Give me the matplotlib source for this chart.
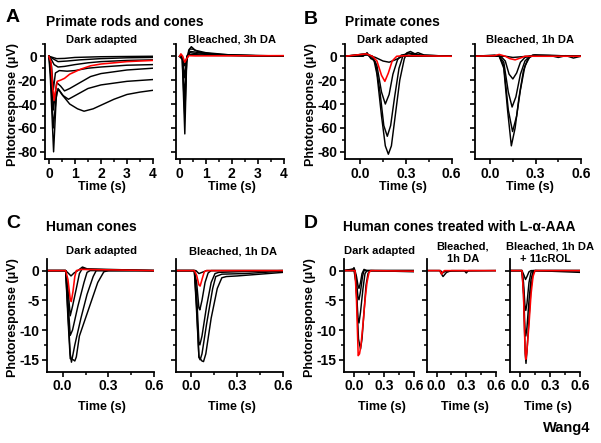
import matplotlib
matplotlib.use("Agg")
import matplotlib.pyplot as plt
from matplotlib.ticker import MultipleLocator, FormatStrFormatter

plt.rcParams["font.family"] = ["Liberation Sans", "DejaVu Sans"]
plt.rcParams["font.weight"] = "bold"
plt.rcParams["axes.unicode_minus"] = False

W, H = 601, 443

# ---- traces, (time s, response uV) ----
A_DARK_BLACK = [
    [(0, 0), (0.15, -1), (0.3, -2), (0.6, -1.8), (1, -1), (2, -0.4), (4, 0)],
    [(0, 0), (0.15, -2), (0.35, -4.5), (0.7, -4), (1.2, -3), (2, -2), (3, -1.3), (4, -1)],
    [(0, 0), (0.1, -3), (0.2, -7), (0.35, -9), (0.6, -8.5), (1, -7), (1.5, -5.5), (2, -4.5), (3, -3.5), (4, -3)],
    [(0, 0), (0.1, -8), (0.17, -28), (0.25, -14), (0.4, -12), (0.7, -12.5), (1, -12), (1.5, -10),
     (2, -9), (3, -7.5), (4, -7)],
    [(0, 0), (0.08, -10), (0.17, -45), (0.3, -22), (0.45, -25), (0.6, -29), (0.8, -27), (1.2, -22),
     (1.6, -17), (2, -14.5), (3, -11.5), (4, -10)],
    [(0, 0), (0.07, -15), (0.17, -60), (0.3, -30), (0.38, -28), (0.55, -33), (0.75, -36), (1, -33),
     (1.5, -27), (2, -24), (3, -21), (4, -19.5)],
    [(0, 0), (0.06, -20), (0.18, -80), (0.28, -35), (0.35, -27), (0.5, -32), (0.8, -40), (1.1, -44),
     (1.35, -46), (1.7, -44), (2, -41), (2.5, -36), (3, -32), (3.5, -30), (4, -28.5)],
]
A_DARK_RED = [(0, 0), (0.08, -5), (0.14, -25), (0.2, -37), (0.26, -28), (0.32, -21), (0.45, -20),
              (0.6, -18.5), (0.8, -15), (1.2, -11), (1.6, -8), (2, -6.5), (3, -4.5), (4, -3.5)]

A_BLEACH_BLACK = [
    [(0, 0), (0.1, -2), (0.2, -65), (0.27, -5), (0.35, 5), (0.45, 8), (0.6, 5), (1, 3), (1.5, 2),
     (2, 1), (3, 0.5), (4, 0.3)],
    [(0, 0), (0.1, -2), (0.2, -50), (0.27, -3), (0.38, 6), (0.5, 6), (0.8, 3), (1.5, 1.5), (2.5, 0.8), (4, 0.2)],
    [(0, 0), (0.12, -3), (0.2, -35), (0.28, -2), (0.4, 4), (0.6, 3.5), (1, 2), (2, 0.8), (4, 0)],
    [(0, 0), (0.12, -2), (0.2, -18), (0.28, 0), (0.4, 3), (0.7, 2), (1.5, 1), (4, 0)],
    [(0, 0), (0.05, 1), (0.2, -8), (0.3, 1), (0.5, 1.5), (1, 0.8), (4, 0)],
]
A_BLEACH_RED = [(0, 0), (0.05, 2), (0.12, 0), (0.2, -5), (0.27, -2), (0.35, 0.5), (0.6, 0.3), (4, 0.5)]

B_DARK_BLACK = [
    [(-0.1, 0), (0.02, 0), (0.045, 3), (0.07, -2), (0.09, -3), (0.11, -15), (0.14, -50), (0.165, -75),
     (0.185, -82), (0.205, -75), (0.23, -50), (0.26, -20), (0.29, -2), (0.31, 3), (0.33, 4), (0.36, 2),
     (0.38, 3), (0.42, 1), (0.5, 0.5), (0.6, 0)],
    [(-0.1, 0), (0.04, 2), (0.07, -1), (0.1, -5), (0.13, -30), (0.155, -58), (0.178, -67), (0.2, -58),
     (0.225, -35), (0.255, -10), (0.28, 0), (0.31, 3), (0.35, 2), (0.4, 1), (0.6, 0)],
    [(-0.1, 0), (0.04, 2), (0.08, 0), (0.11, -8), (0.14, -30), (0.165, -40), (0.19, -32), (0.215, -15),
     (0.245, -3), (0.27, 1), (0.32, 2), (0.4, 0.5), (0.6, 0)],
    [(-0.1, 0), (0.05, 1), (0.1, -1), (0.15, -4), (0.19, -5), (0.23, -3), (0.28, 0), (0.6, 0)],
]
B_DARK_RED = [(-0.1, 0), (0.04, 2), (0.08, 0), (0.11, -4), (0.14, -16), (0.162, -21), (0.185, -14),
              (0.21, -4), (0.24, 0), (0.3, 0.5), (0.6, 0)]

B_BLEACH_BLACK = [
    [(-0.1, 0), (0.03, 1), (0.06, 0), (0.09, -10), (0.115, -45), (0.14, -75), (0.165, -60), (0.19, -35),
     (0.22, -12), (0.25, -2), (0.28, 1), (0.32, 0.5), (0.4, 0.5), (0.45, -1), (0.5, 0.5), (0.55, -1.5), (0.6, 0)],
    [(-0.1, 0), (0.06, 0), (0.09, -8), (0.12, -45), (0.148, -63), (0.175, -50), (0.2, -28), (0.23, -8),
     (0.26, -1), (0.29, 1), (0.6, 0)],
    [(-0.1, 0), (0.06, 0), (0.09, -5), (0.12, -30), (0.145, -42.5), (0.17, -34), (0.2, -15), (0.23, -4),
     (0.26, 0), (0.3, 1), (0.6, 0)],
    [(-0.1, 0), (0.07, 0), (0.1, -4), (0.125, -15), (0.15, -19), (0.175, -14), (0.2, -5), (0.23, -1),
     (0.26, 0), (0.6, 0)],
    [(-0.1, 0), (0.1, 0), (0.15, -1), (0.2, -0.5), (0.25, 0), (0.6, 0)],
]
B_BLEACH_RED = [(-0.1, 0), (0.03, 0.5), (0.06, 1.5), (0.1, 0), (0.13, -2), (0.165, -3), (0.2, -1.5),
                (0.23, 0), (0.6, 0)]

C_DARK_BLACK = [
    [(-0.1, 0), (0.02, 0), (0.04, -0.5), (0.055, -0.9), (0.075, -0.4), (0.1, 0), (0.13, 0.6), (0.16, 0.3), (0.6, 0)],
    [(-0.1, 0), (0.02, 0), (0.035, -3), (0.05, -7.6), (0.065, -6), (0.09, -3), (0.11, -0.5), (0.13, 0.4),
     (0.16, 0.2), (0.6, 0)],
    [(-0.1, 0), (0.02, 0), (0.035, -5), (0.05, -10.9), (0.065, -10), (0.1, -6), (0.14, -2), (0.16, -0.3),
     (0.18, 0), (0.6, 0)],
    [(-0.1, 0), (0.02, 0), (0.035, -7), (0.05, -14), (0.058, -15.4), (0.08, -12.5), (0.12, -8), (0.16, -4),
     (0.2, -1), (0.22, 0), (0.6, 0)],
    [(-0.1, 0), (0.02, 0), (0.035, -8), (0.05, -14.8), (0.07, -15), (0.08, -15.2), (0.09, -14.5), (0.11, -11),
     (0.15, -8), (0.19, -5), (0.23, -2), (0.27, -0.2), (0.3, 0), (0.6, 0)],
]
C_DARK_RED = [(-0.1, 0), (0.02, 0), (0.035, -1.5), (0.05, -4.8), (0.057, -5.2), (0.068, -3.5), (0.08, -1),
              (0.09, 0), (0.12, 0.2), (0.6, 0)]

C_BLEACH_BLACK = [
    [(-0.1, 0), (0.03, 0), (0.05, -0.5), (0.07, -0.3), (0.1, 0), (0.6, 0)],
    [(-0.1, 0), (0.02, 0), (0.035, -2), (0.05, -6.3), (0.056, -6.6), (0.07, -5), (0.09, -2), (0.11, -0.4),
     (0.13, 0), (0.6, 0)],
    [(-0.1, 0), (0.02, 0), (0.035, -4), (0.05, -12), (0.056, -12.5), (0.07, -11), (0.1, -6), (0.13, -2),
     (0.155, -0.5), (0.18, -0.3), (0.3, -0.2), (0.6, 0)],
    [(-0.1, 0), (0.02, 0), (0.035, -6), (0.05, -14.6), (0.058, -15), (0.07, -14), (0.1, -9), (0.14, -3),
     (0.16, -1), (0.2, -0.6), (0.35, -0.5), (0.6, -0.1)],
    [(-0.1, 0), (0.02, 0), (0.035, -7), (0.05, -14.5), (0.07, -15.2), (0.08, -15.3), (0.095, -14), (0.13, -8),
     (0.17, -3), (0.2, -1.2), (0.23, -1), (0.3, -0.9), (0.4, -0.7), (0.5, -0.5), (0.6, -0.3)],
]
C_BLEACH_RED = [(-0.1, 0), (0.02, 0), (0.035, -0.8), (0.05, -2.4), (0.058, -2.6), (0.07, -1.5), (0.085, -0.2),
                (0.1, 0), (0.6, 0)]

D_DARK_BLACK = [
    [(-0.1, 0), (-0.01, 0.2), (0.0, 0.5), (0.01, 0), (0.025, -1), (0.04, -2.5), (0.05, -3), (0.065, -2),
     (0.08, -0.5), (0.1, 0.2), (0.13, 0), (0.6, 0)],
    [(-0.1, 0), (0.0, 0.3), (0.02, -1), (0.04, -4.5), (0.05, -4.9), (0.065, -3.5), (0.085, -1), (0.1, 0), (0.6, 0)],
    [(-0.1, 0), (0.0, 0), (0.02, -2), (0.04, -8), (0.05, -8.8), (0.065, -7), (0.09, -3), (0.11, -0.5),
     (0.13, 0), (0.6, 0)],
    [(-0.1, 0), (0.01, 0), (0.025, -4), (0.045, -11.5), (0.065, -13.2), (0.08, -11.5), (0.1, -7), (0.12, -2.5),
     (0.14, -0.5), (0.16, 0), (0.6, -0.2)],
]
D_DARK_RED = [(-0.1, 0), (0.01, 0), (0.025, -5), (0.042, -14.3), (0.055, -14), (0.07, -12.5), (0.09, -9),
              (0.11, -5), (0.13, -2), (0.15, -0.3), (0.17, 0), (0.6, -0.1)]

D_BLEACH_BLACK = [
    [(-0.1, 0), (0.03, 0), (0.05, -0.6), (0.065, -1), (0.08, -0.7), (0.1, -0.3), (0.15, 0), (0.28, 0),
     (0.3, -0.4), (0.32, 0), (0.6, 0)],
    [(-0.1, 0), (0.04, 0), (0.06, -0.4), (0.09, -0.1), (0.6, 0)],
]
D_BLEACH_RED = [(-0.1, 0), (0.035, 0), (0.05, -0.6), (0.065, -0.2), (0.08, 0), (0.6, 0)]

D_ROL_BLACK = [
    [(-0.1, 0), (0.02, 0), (0.04, -0.8), (0.055, -1.5), (0.07, -1), (0.09, -0.2), (0.11, 0), (0.6, 0)],
    [(-0.1, 0), (0.02, 0), (0.035, -2), (0.05, -6), (0.058, -6.7), (0.07, -5.5), (0.09, -2), (0.11, -0.3),
     (0.13, 0), (0.6, 0)],
    [(-0.1, 0), (0.02, 0), (0.035, -3), (0.05, -10), (0.058, -11), (0.07, -9.5), (0.09, -5), (0.11, -1.5),
     (0.13, -0.2), (0.15, 0), (0.6, 0)],
    [(-0.1, 0), (0.02, 0), (0.035, -4), (0.052, -14), (0.06, -15.6), (0.07, -13.5), (0.09, -8), (0.11, -3),
     (0.13, -0.5), (0.15, 0), (0.6, -0.3)],
]
D_ROL_RED = [(-0.1, 0), (0.02, 0), (0.035, -4), (0.05, -13), (0.058, -14.9), (0.068, -13.8), (0.09, -9),
             (0.11, -4), (0.13, -1), (0.15, 0), (0.6, 0)]


def px_rect(x0, x1, y0, y1):
    return [x0 / W, 1 - y1 / H, (x1 - x0) / W, (y1 - y0) / H]


def ftext(fig, x, y, s, **kw):
    fig.text(x / W, 1 - y / H, s, **kw)


def draw(ax, black, red):
    for tr in black:
        ax.plot([p[0] for p in tr], [p[1] for p in tr], color="black", lw=1.05, solid_joinstyle="round")
    ax.plot([p[0] for p in red], [p[1] for p in red], color="red", lw=1.15, solid_joinstyle="round")


def style(ax, xlim, ylim, xmaj, xmin, ymaj, ymin, xfmt, ylabels=True):
    ax.set_xlim(*xlim)
    ax.set_ylim(*ylim)
    for s in ("top", "right"):
        ax.spines[s].set_visible(False)
    for s in ("left", "bottom"):
        ax.spines[s].set_linewidth(1.3)
    ax.xaxis.set_major_locator(MultipleLocator(xmaj))
    ax.xaxis.set_minor_locator(MultipleLocator(xmin))
    ax.yaxis.set_major_locator(MultipleLocator(ymaj))
    ax.yaxis.set_minor_locator(MultipleLocator(ymin))
    ax.xaxis.set_major_formatter(FormatStrFormatter(xfmt))
    ax.tick_params(which="major", direction="out", length=3.5, width=1.2, labelsize=10, pad=2)
    ax.tick_params(which="minor", direction="out", length=2.0, width=1.1)
    for lab in ax.get_xticklabels() + ax.get_yticklabels():
        lab.set_fontweight("bold")
    if not ylabels:
        ax.tick_params(axis="y", labelleft=False)


fig = plt.figure(figsize=(W / 100, H / 100), dpi=100)

ya = (43.7, 159.0)
yc = (258.7, 371.7)
ylim_top = (-86, 10.5)
ylim_bot = (-17, 2)

# top row
ax = fig.add_axes(px_rect(45, 153, *ya))
draw(ax, A_DARK_BLACK, A_DARK_RED)
style(ax, (-0.15, 4), ylim_top, 1, 0.5, 20, 10, "%d")

ax = fig.add_axes(px_rect(175.7, 283.7, *ya))
draw(ax, A_BLEACH_BLACK, A_BLEACH_RED)
style(ax, (-0.15, 4), ylim_top, 1, 0.5, 20, 10, "%d", ylabels=False)

ax = fig.add_axes(px_rect(345, 451.5, *ya))
draw(ax, B_DARK_BLACK, B_DARK_RED)
style(ax, (-0.1, 0.6), ylim_top, 0.3, 0.15, 20, 10, "%.1f")

ax = fig.add_axes(px_rect(475, 581, *ya))
draw(ax, B_BLEACH_BLACK, B_BLEACH_RED)
style(ax, (-0.1, 0.6), ylim_top, 0.3, 0.15, 20, 10, "%.1f", ylabels=False)

# bottom row
ax = fig.add_axes(px_rect(47.3, 154.3, *yc))
draw(ax, C_DARK_BLACK, C_DARK_RED)
style(ax, (-0.1, 0.6), ylim_bot, 0.3, 0.15, 5, 2.5, "%.1f")

ax = fig.add_axes(px_rect(176, 283, *yc))
draw(ax, C_BLEACH_BLACK, C_BLEACH_RED)
style(ax, (-0.1, 0.6), ylim_bot, 0.3, 0.15, 5, 2.5, "%.1f", ylabels=False)

ax = fig.add_axes(px_rect(344, 414, *yc))
draw(ax, D_DARK_BLACK, D_DARK_RED)
style(ax, (-0.1, 0.6), ylim_bot, 0.3, 0.15, 5, 2.5, "%.1f")

ax = fig.add_axes(px_rect(426.7, 496, *yc))
draw(ax, D_BLEACH_BLACK, D_BLEACH_RED)
style(ax, (-0.1, 0.6), ylim_bot, 0.3, 0.15, 5, 2.5, "%.1f", ylabels=False)

ax = fig.add_axes(px_rect(510, 580, *yc))
draw(ax, D_ROL_BLACK, D_ROL_RED)
style(ax, (-0.1, 0.6), ylim_bot, 0.3, 0.15, 5, 2.5, "%.1f", ylabels=False)

# panel letters and titles
bold = dict(fontweight="bold", va="center")
ftext(fig, 6, 18, "A", fontsize=14, ha="left", **bold)
ftext(fig, 46.5, 22, "Primate rods and cones", fontsize=10, ha="left", **bold)
ftext(fig, 304, 19, "B", fontsize=14, ha="left", **bold)
ftext(fig, 345, 22, "Primate cones", fontsize=10, ha="left", **bold)
ftext(fig, 6, 224, "C", fontsize=14, ha="left", **bold)
ftext(fig, 46.5, 227, "Human cones", fontsize=10, ha="left", **bold)
ftext(fig, 304, 224, "D", fontsize=14, ha="left", **bold)
ftext(fig, 343, 227, "Human cones treated with L-\u03b1-AAA", fontsize=10, ha="left", **bold)

# panel subtitles
ftext(fig, 101.7, 40, "Dark adapted", fontsize=8, ha="center", **bold)
ftext(fig, 231.7, 40, "Bleached, 3h DA", fontsize=8, ha="center", **bold)
ftext(fig, 392.7, 40, "Dark adapted", fontsize=8, ha="center", **bold)
ftext(fig, 530, 40, "Bleached, 1h DA", fontsize=8, ha="center", **bold)
ftext(fig, 101.7, 251, "Dark adapted", fontsize=8, ha="center", **bold)
ftext(fig, 233, 251, "Bleached, 1h DA", fontsize=8, ha="center", **bold)
ftext(fig, 380, 251, "Dark adapted", fontsize=8, ha="center", **bold)
ftext(fig, 463, 246.5, "Bleached,", fontsize=8, ha="center", **bold)
ftext(fig, 463, 258.5, "1h DA", fontsize=8, ha="center", **bold)
ftext(fig, 550, 246.5, "Bleached, 1h DA", fontsize=8, ha="center", **bold)
ftext(fig, 545, 258.5, "+ 11cROL", fontsize=8, ha="center", **bold)

# axis labels
ftext(fig, 13, 105, "Phtotoresponse (\u03bcV)", fontsize=9, ha="center", rotation=90, **bold)
ftext(fig, 311, 105, "Phtotoresponse (\u03bcV)", fontsize=9, ha="center", rotation=90, **bold)
ftext(fig, 13, 318, "Photoresponse (\u03bcV)", fontsize=9, ha="center", rotation=90, **bold)
ftext(fig, 310, 318, "Photoresponse (\u03bcV)", fontsize=9, ha="center", rotation=90, **bold)
for x in (102, 232, 403, 530):
    ftext(fig, x, 187, "Time (s)", fontsize=9, ha="center", **bold)
for x in (102, 232, 381.7, 465, 548.3):
    ftext(fig, x, 407, "Time (s)", fontsize=9, ha="center", **bold)

ftext(fig, 567, 428, "Wang4", fontsize=10.5, ha="center", **bold)

fig.savefig("out.png", dpi=100)
